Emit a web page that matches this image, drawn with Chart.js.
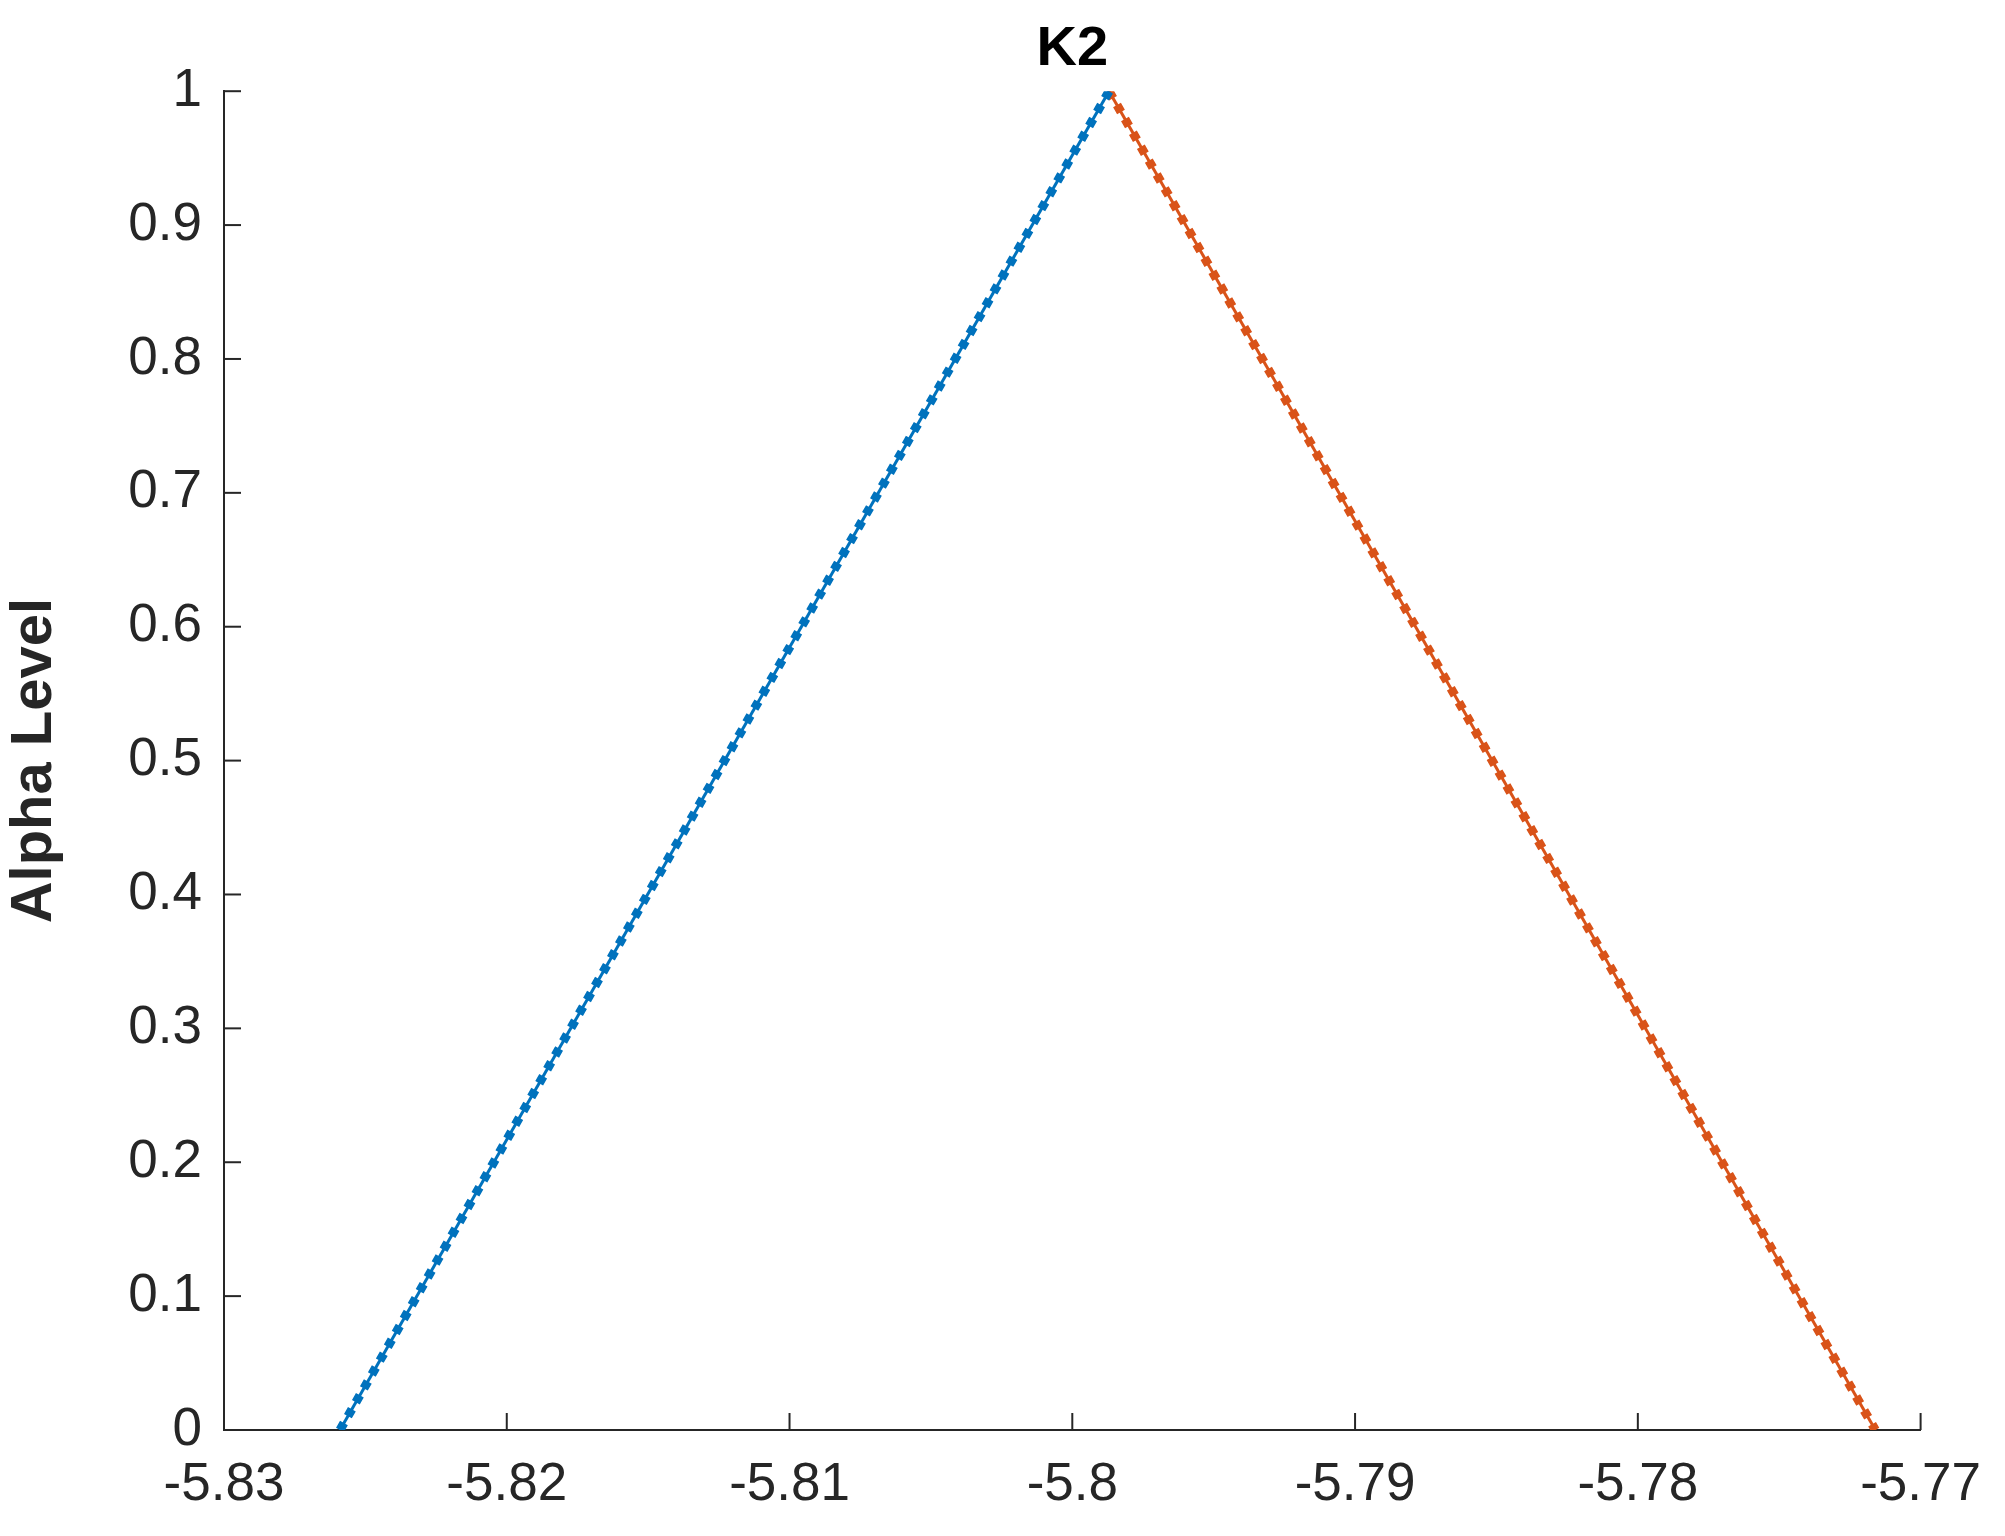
<!DOCTYPE html>
<html>
<head>
<meta charset="utf-8">
<script src="https://cdn.jsdelivr.net/npm/chart.js@4/dist/chart.umd.min.js"></script>
<style>
  html, body { margin: 0; padding: 0; background: #fff; }
  #wrap { width: 2005px; height: 1536px; }
</style>
</head>
<body>
<div id="wrap"><canvas id="chart1"></canvas></div>
<script>
// left (rising) branch and right (falling) branch of the fuzzy number K2
const leftX = [-5.8259, -5.7987];
const leftAlpha = [0, 1];
const rightX = [-5.7987, -5.7716];
const rightAlpha = [1, 0];
const xTicks = [-5.83, -5.82, -5.81, -5.8, -5.79, -5.78, -5.77];
const yTicks = [0, 0.1, 0.2, 0.3, 0.4, 0.5, 0.6, 0.7, 0.8, 0.9, 1];

const blue = "#0072BD";
const orange = "#D95319";
const ink = "#262626";
const fontFam = "'Liberation Sans', Arial, sans-serif";

function pts(xs, ys) {
  return xs.map((x, i) => ({ x: x, y: ys[i] }));
}

function branch(xs, ys, color) {
  return [
    { data: pts(xs, ys), showLine: true, borderColor: color, borderWidth: 3, pointRadius: 0 },
    { data: pts(xs, ys), showLine: true, borderColor: color, borderWidth: 9, borderDash: [8, 8], pointRadius: 0 },
  ];
}

// MATLAB style inward tick marks
const innerTicks = {
  id: "innerTicks",
  afterDraw(chart) {
    const ctx = chart.ctx;
    const xs = chart.scales.x;
    const ys = chart.scales.y;
    const area = chart.chartArea;
    ctx.save();
    ctx.strokeStyle = ink;
    ctx.lineWidth = 2;
    xTicks.forEach((v) => {
      const px = xs.getPixelForValue(v);
      ctx.beginPath();
      ctx.moveTo(px, area.bottom);
      ctx.lineTo(px, area.bottom - 17);
      ctx.stroke();
    });
    yTicks.forEach((v) => {
      const py = ys.getPixelForValue(v);
      ctx.beginPath();
      ctx.moveTo(area.left, py);
      ctx.lineTo(area.left + 17, py);
      ctx.stroke();
    });
    ctx.restore();
  },
};

const ctx = document.getElementById("chart1").getContext("2d");
new Chart(ctx, {
  type: "scatter",
  data: {
    datasets: [...branch(leftX, leftAlpha, blue), ...branch(rightX, rightAlpha, orange)],
  },
  options: {
    responsive: true,
    maintainAspectRatio: false,
    animation: false,
    layout: { padding: { left: 0, right: 78, top: 0, bottom: 0 } },
    plugins: {
      legend: { display: false },
      tooltip: { enabled: false },
      title: {
        display: true,
        fullSize: false,
        text: "K2",
        color: "#000",
        font: { family: fontFam, size: 56, weight: "bold" },
        padding: { top: 16, bottom: 8 },
      },
    },
    scales: {
      x: {
        type: "linear",
        min: -5.83,
        max: -5.77,
        afterBuildTicks: (s) => { s.ticks = xTicks.map((v) => ({ value: v })); },
        afterFit: (s) => { s.height = 106; },
        grid: { display: false, drawTicks: false },
        border: { display: true, color: ink, width: 2 },
        ticks: {
          color: ink,
          padding: 24,
          maxRotation: 0,
          font: { family: fontFam, size: 53 },
          callback: (v) => String(+v.toFixed(2)),
        },
      },
      y: {
        min: 0,
        max: 1,
        afterBuildTicks: (s) => { s.ticks = yTicks.map((v) => ({ value: v })); },
        afterFit: (s) => { s.width = 224; },
        grid: { display: false, drawTicks: false },
        border: { display: true, color: ink, width: 2 },
        title: {
          display: true,
          text: "Alpha Level",
          color: ink,
          font: { family: fontFam, size: 58, weight: "bold" },
          padding: { top: 0, bottom: 8 },
        },
        ticks: {
          color: ink,
          padding: 22,
          font: { family: fontFam, size: 53 },
          callback: (v) => String(+v.toFixed(1)),
        },
      },
    },
  },
  plugins: [innerTicks],
});
</script>
</body>
</html>
